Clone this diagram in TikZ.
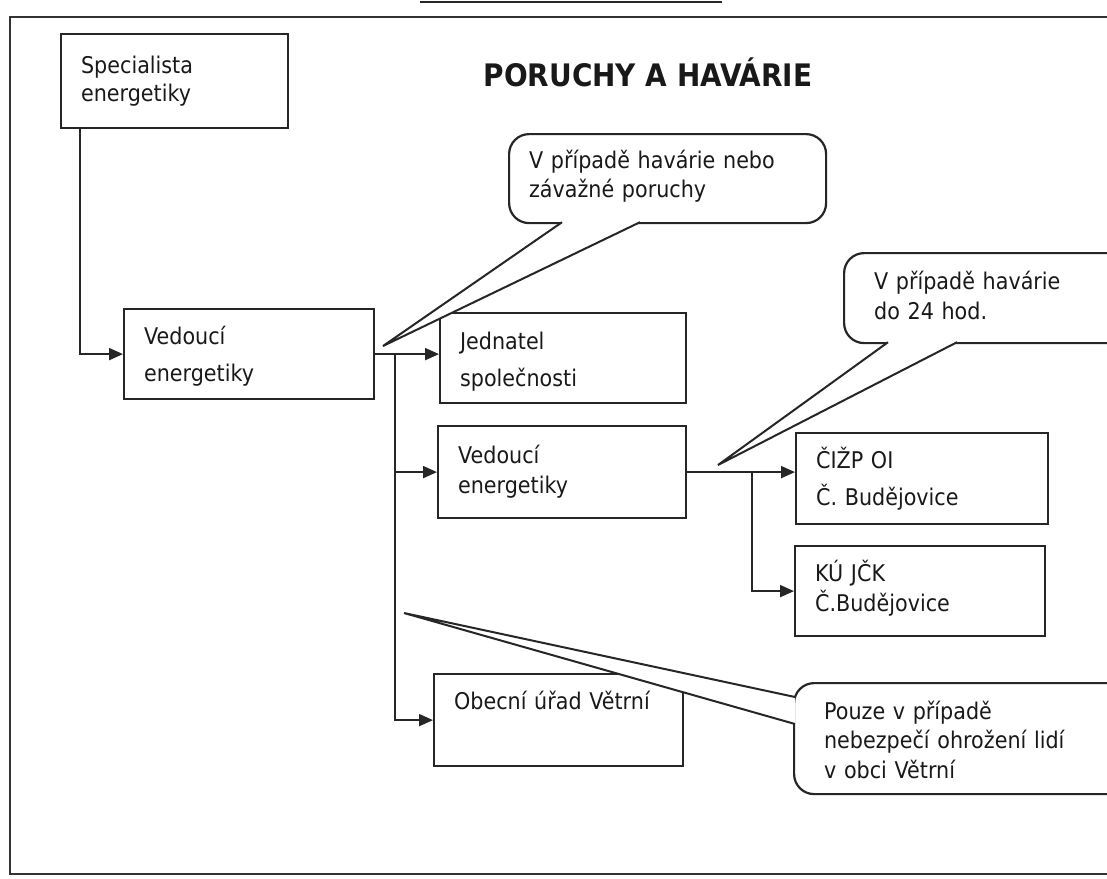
\documentclass[tikz,border=0pt]{standalone}
\usepackage{fontspec}
\setmainfont{DejaVu Sans}[FakeStretch=0.9]
\usetikzlibrary{arrows.meta}

\begin{document}
\begin{tikzpicture}[x=0.5pt,y=-0.5pt,
	box/.style={draw=black!85,line width=1.1pt,anchor=north west,align=left,inner xsep=10pt,inner ysep=0pt,text=black!90,font=\fontsize{11.5pt}{15pt}\selectfont},
	wide/.style={font=\fontsize{11.5pt}{18.5pt}\selectfont},
	bubble/.style={box,rounded corners=10pt,fill=white},
	arr/.style={draw=black!85,line width=1pt,-{Triangle[length=7pt,width=6pt]}},
	tailline/.style={draw=black!85,line width=1pt,line join=miter,fill=white}]
	\useasboundingbox (0,0) rectangle (1107,878);

	\draw [line width=0.7pt,black!80] (1130,17) -- (10,17) -- (10,874) -- (1130,874);
	\draw [line width=1.4pt,black!85] (420,2) -- (722,2);
	\node [font=\fontsize{15.5pt}{18pt}\selectfont\bfseries,text=black!90] (title) at (648,72) {PORUCHY A HAVÁRIE};

	\node [box,text width=93.5pt,text height=19.5pt,text depth=27.5pt,font=\fontsize{11.5pt}{14pt}\selectfont] (spec) at (60,33) {Specialista\\energetiky};
	\node [box,wide,text width=105pt,text height=17.5pt,text depth=27.5pt] (v1) at (123,308) {Vedoucí\\energetiky};
	\node [box,wide,text width=103pt,text height=18pt,text depth=27pt] (jed) at (439,312) {Jednatel\\společnosti};
	\node [box,text width=104pt,text height=18.5pt,text depth=27.5pt] (v2) at (437,425) {Vedoucí\\energetiky};
	\node [box,wide,text width=106pt,text height=17.5pt,text depth=28pt] (cizp) at (795,432) {ČIŽP OI\\Č. Budějovice};
	\node [box,text width=105pt,text height=17.5pt,text depth=27.5pt] (ku) at (794,545) {KÚ JČK\\Č.Budějovice};
	\node [box,text width=104.5pt,text height=17.5pt,text depth=28.5pt] (obec) at (433,673) {Obecní úřad Větrní};

	\draw [arr] ([xshift=10pt]spec.south west) |- (v1.west);
	\coordinate (j1) at ([xshift=10pt]v1.east);
	\draw [arr] (v1.east) -- (v1.east -| jed.west);
	\draw [arr] (j1) |- (v2.west);
	\draw [arr] (j1) |- (obec.west);
	\coordinate (j2) at ([xshift=32.5pt]v2.east);
	\draw [arr] (v2.east) -- (v2.east -| cizp.west);
	\draw [arr] (j2) |- (ku.west);

	\node [bubble,text width=138.5pt,text height=17pt,text depth=27.5pt,font=\fontsize{11.5pt}{14.5pt}\selectfont] (c1) at (508,133) {V případě havárie nebo\\závažné poruchy};
	\coordinate (c1tip) at (383,346);
	\filldraw [tailline] ([xshift=27pt,yshift=1pt]c1.south west) -- (c1tip) -- ([xshift=66pt,yshift=1pt]c1.south west);

	\node [bubble,inner xsep=15pt,text width=120pt,text height=18pt,text depth=27pt] (c2) at (843,252) {V případě havárie\\do 24 hod.};
	\coordinate (c2tip) at (718,465);
	\filldraw [tailline] ([xshift=22.5pt,yshift=1pt]c2.south west) -- (c2tip) -- ([xshift=57pt,yshift=1pt]c2.south west);

	\node [bubble,inner xsep=15pt,text width=140pt,text height=18pt,text depth=37.5pt,font=\fontsize{11.5pt}{14.75pt}\selectfont] (pouze) at (793,682) {Pouze v případě\\nebezpečí ohrožení lidí\\v obci Větrní};
	\coordinate (ptip) at (404,613);
	\filldraw [tailline] ([xshift=1pt,yshift=-7.5pt]pouze.north west) -- (ptip) -- ([xshift=1pt,yshift=-21pt]pouze.north west);
\end{tikzpicture}
\end{document}
